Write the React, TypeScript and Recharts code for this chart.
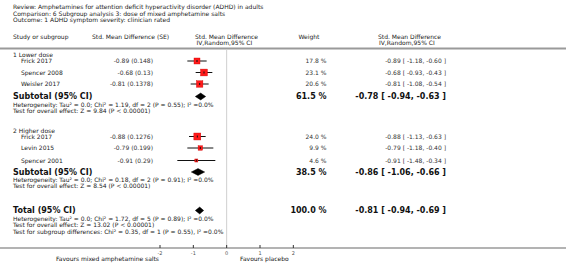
import React from 'react';
import { ComposedChart, XAxis, YAxis, Scatter, ErrorBar, ReferenceLine } from 'recharts';

// ---------- data ----------
const reviewTitle = 'Review:  Amphetamines for attention deficit hyperactivity disorder (ADHD) in adults';
const comparisonTitle = 'Comparison:  6 Subgroup analysis 3: dose of mixed amphetamine salts';
const outcomeTitle = 'Outcome:  1 ADHD symptom severity: clinician rated';

const groupLabels = ['1 Lower dose', '2 Higher dose'];
const studyNames = ['Frick 2017', 'Spencer 2008', 'Weisler 2017', 'Frick 2017', 'Levin 2015', 'Spencer 2001'];
const studySmd = [-0.89, -0.68, -0.81, -0.88, -0.79, -0.91];
const studySe = ['0.148', '0.13', '0.1378', '0.1276', '0.199', '0.29'];
const studyLower = [-1.18, -0.93, -1.08, -1.13, -1.18, -1.48];
const studyUpper = [-0.6, -0.43, -0.54, -0.63, -0.4, -0.34];
const studyWeight = [17.8, 23.1, 20.6, 24.0, 9.9, 4.6];

const subtotalSmd = [-0.78, -0.86];
const subtotalLower = [-0.94, -1.06];
const subtotalUpper = [-0.63, -0.66];
const subtotalWeight = [61.5, 38.5];
const subtotalHet = [
  'Heterogeneity: Tau\u00b2 = 0.0; Chi\u00b2 = 1.19, df = 2 (P = 0.55); I\u00b2 =0.0%',
  'Heterogeneity: Tau\u00b2 = 0.0; Chi\u00b2 = 0.18, df = 2 (P = 0.91); I\u00b2 =0.0%',
];
const subtotalTest = [
  'Test for overall effect: Z = 9.84 (P < 0.00001)',
  'Test for overall effect: Z = 8.54 (P < 0.00001)',
];

const totalSmd = [-0.81];
const totalLower = [-0.94];
const totalUpper = [-0.69];
const totalWeight = [100.0];
const totalHet = 'Heterogeneity: Tau\u00b2 = 0.0; Chi\u00b2 = 1.72, df = 5 (P = 0.89); I\u00b2 =0.0%';
const totalTest = 'Test for overall effect: Z = 13.02 (P < 0.00001)';
const subgroupTest = 'Test for subgroup differences: Chi\u00b2 = 0.35, df = 1 (P = 0.55), I\u00b2 =0.0%';

const axisTicks = [-2, -1, 0, 1, 2];
const favoursLeft = 'Favours mixed amphetamine salts';
const favoursRight = 'Favours placebo';

// ---------- layout ----------
const W = 566;
const H = 272;
const X_MIN = -6.8;
const X_MAX = 10.18;
const PLOT_BOTTOM = 248;
const FONT = "'DejaVu Sans', Verdana, sans-serif";
const ROW = {
  title: [6.5, 13.5, 20],
  header: [37, 43],
  sep: 48.5,
  group: [54.5, 130.5],
  study: [61, 72.5, 84, 136.5, 148, 160.5],
  subtotal: [96.5, 172],
  het: [104.5, 179.5],
  test: [111, 186],
  total: 210.5,
  totalHet: 218.5,
  totalTest: 225,
  subgroup: 232,
  favours: 259,
};
const COL = {
  left: 13,
  study: 21,
  seRight: 153,
  plotHeader: 195,
  weightHeader: 298.5,
  weightRight: 326.5,
  ciHeader: 378,
  ciRight: 446,
  favLeftRight: 159,
  favRightStart: 240,
};
const SQUARE_K = 1.42;
const DIAMOND_H = 3.4;

const f2 = (v: number) => v.toFixed(2);
const ciText = (e: number, l: number, u: number) => `${f2(e)} [ ${f2(l)}, ${f2(u)} ]`;

const ciData = studyNames.map((n, i) => ({
  x: studySmd[i],
  y: ROW.study[i],
  err: [studySmd[i] - studyLower[i], studyUpper[i] - studySmd[i]],
  w: studyWeight[i],
}));

const pooled = [
  ...subtotalSmd.map((e, i) => ({ e, l: subtotalLower[i], u: subtotalUpper[i], y: ROW.subtotal[i] })),
  { e: totalSmd[0], l: totalLower[0], u: totalUpper[0], y: ROW.total },
];

const EmptyShape = () => <g />;

const SquareShape = (props: any) => {
  const { cx, cy, payload } = props;
  const s = SQUARE_K * Math.sqrt(payload.w);
  return (
    <g>
      <rect x={cx - s / 2} y={cy - s / 2} width={s} height={s} fill="#ff1a1a" stroke="#d00000" strokeWidth={0.4} />
      <rect x={cx - 0.5} y={cy - 1} width={1} height={2} fill="#111" />
    </g>
  );
};

const makeDiamond = (e: number, l: number, u: number) => (p: any) => {
  const { x1, x2, y1 } = p;
  const xe = x1 + ((e - l) / (u - l)) * (x2 - x1);
  const pts = `${x1},${y1} ${xe},${y1 - DIAMOND_H} ${x2},${y1} ${xe},${y1 + DIAMOND_H}`;
  return <polygon points={pts} fill="#000" stroke="#000" strokeWidth={0.5} />;
};

const AxisTick = (props: any) => {
  const { x, y, payload } = props;
  return (
    <g>
      <line x1={x} x2={x} y1={y - 3} y2={y} stroke="#333" strokeWidth={1} />
      <text x={x} y={y + 6.5} textAnchor="middle" fontSize={5} fill="#555" fontFamily={FONT}>
        {payload.value}
      </text>
    </g>
  );
};

type TP = { x: number; y: number; a?: 'start' | 'end' | 'middle'; s?: number; b?: boolean; c?: string; children: React.ReactNode };
const T = ({ x, y, a = 'start', s = 6, b = false, c = '#222', children }: TP) => (
  <text x={x} y={y + s * 0.36} textAnchor={a} fontSize={s} fontWeight={b ? 'bold' : 'normal'} fill={c} fontFamily={FONT}>
    {children}
  </text>
);

export default function App() {
  return (
    <div style={{ position: 'absolute', left: 0, top: 0, width: W, height: H, background: '#fff' }}>
      <div style={{ position: 'absolute', left: 0, top: 0 }}>
        <ComposedChart width={W} height={H} margin={{ top: 0, right: 0, bottom: 0, left: 0 }}>
          <XAxis
            type="number"
            dataKey="x"
            domain={[X_MIN, X_MAX]}
            allowDataOverflow
            ticks={axisTicks}
            interval={0}
            height={H - PLOT_BOTTOM}
            tickSize={0}
            tickMargin={0}
            tickLine={false}
            axisLine={{ stroke: '#9a9a9a', strokeWidth: 1.5 }}
            tick={<AxisTick />}
          />
          <YAxis type="number" dataKey="y" domain={[0, PLOT_BOTTOM]} reversed hide allowDataOverflow />
          <ReferenceLine y={ROW.sep} stroke="#9a9a9a" strokeWidth={2} />
          <ReferenceLine
            segment={[
              { x: 0, y: ROW.sep + 1 },
              { x: 0, y: PLOT_BOTTOM },
            ]}
            stroke="#cfcfcf"
            strokeWidth={1}
          />
          {pooled.map((d, i) => (
            <ReferenceLine
              key={`dia${i}`}
              segment={[
                { x: d.l, y: d.y },
                { x: d.u, y: d.y },
              ]}
              shape={makeDiamond(d.e, d.l, d.u)}
            />
          ))}
          <Scatter data={ciData} dataKey="y" shape={EmptyShape} isAnimationActive={false}>
            <ErrorBar dataKey="err" direction="x" width={0} stroke="#111" strokeWidth={1} />
          </Scatter>
          <Scatter data={ciData} dataKey="y" shape={SquareShape} isAnimationActive={false} />
        </ComposedChart>
      </div>
      <svg width={W} height={H} style={{ position: 'absolute', left: 0, top: 0, pointerEvents: 'none' }}>
        <T x={COL.left} y={ROW.title[0]}>{reviewTitle}</T>
        <T x={COL.left} y={ROW.title[1]}>{comparisonTitle}</T>
        <T x={COL.left} y={ROW.title[2]}>{outcomeTitle}</T>

        <T x={COL.left} y={ROW.header[0]}>Study or subgroup</T>
        <T x={92} y={ROW.header[0]}>Std. Mean Difference (SE)</T>
        <T x={COL.plotHeader} y={ROW.header[0]}>Std. Mean Difference</T>
        <T x={COL.plotHeader + 1.5} y={ROW.header[1]}>IV,Random,95% CI</T>
        <T x={COL.weightHeader} y={ROW.header[0]}>Weight</T>
        <T x={COL.ciHeader} y={ROW.header[0]}>Std. Mean Difference</T>
        <T x={COL.ciHeader + 1} y={ROW.header[1]}>IV,Random,95% CI</T>

        {groupLabels.map((g, i) => (
          <T key={g} x={COL.left} y={ROW.group[i]}>{g}</T>
        ))}
        {studyNames.map((n, i) => (
          <g key={`s${i}`}>
            <T x={COL.study} y={ROW.study[i]}>{n}</T>
            <T x={COL.seRight} y={ROW.study[i]} a="end" c="#333">{`${f2(studySmd[i])} (${studySe[i]})`}</T>
            <T x={COL.weightRight} y={ROW.study[i]} a="end" c="#333">{`${studyWeight[i].toFixed(1)} %`}</T>
            <T x={COL.ciRight} y={ROW.study[i]} a="end" c="#333">{ciText(studySmd[i], studyLower[i], studyUpper[i])}</T>
          </g>
        ))}
        {subtotalSmd.map((e, i) => (
          <g key={`t${i}`}>
            <T x={COL.left} y={ROW.subtotal[i]} s={8} b c="#111">Subtotal (95% CI)</T>
            <T x={COL.weightRight} y={ROW.subtotal[i]} a="end" s={8} b c="#111">{`${subtotalWeight[i].toFixed(1)} %`}</T>
            <T x={COL.ciRight} y={ROW.subtotal[i]} a="end" s={8} b c="#111">{ciText(e, subtotalLower[i], subtotalUpper[i])}</T>
            <T x={COL.left} y={ROW.het[i]}>{subtotalHet[i]}</T>
            <T x={COL.left} y={ROW.test[i]}>{subtotalTest[i]}</T>
          </g>
        ))}
        <T x={COL.left} y={ROW.total} s={8} b c="#111">Total (95% CI)</T>
        <T x={COL.weightRight} y={ROW.total} a="end" s={8} b c="#111">{`${totalWeight[0].toFixed(1)} %`}</T>
        <T x={COL.ciRight} y={ROW.total} a="end" s={8} b c="#111">{ciText(totalSmd[0], totalLower[0], totalUpper[0])}</T>
        <T x={COL.left} y={ROW.totalHet}>{totalHet}</T>
        <T x={COL.left} y={ROW.totalTest}>{totalTest}</T>
        <T x={COL.left} y={ROW.subgroup}>{subgroupTest}</T>

        <T x={COL.favLeftRight} y={ROW.favours} a="end" c="#111">{favoursLeft}</T>
        <T x={COL.favRightStart} y={ROW.favours} c="#111">{favoursRight}</T>
      </svg>
    </div>
  );
}
